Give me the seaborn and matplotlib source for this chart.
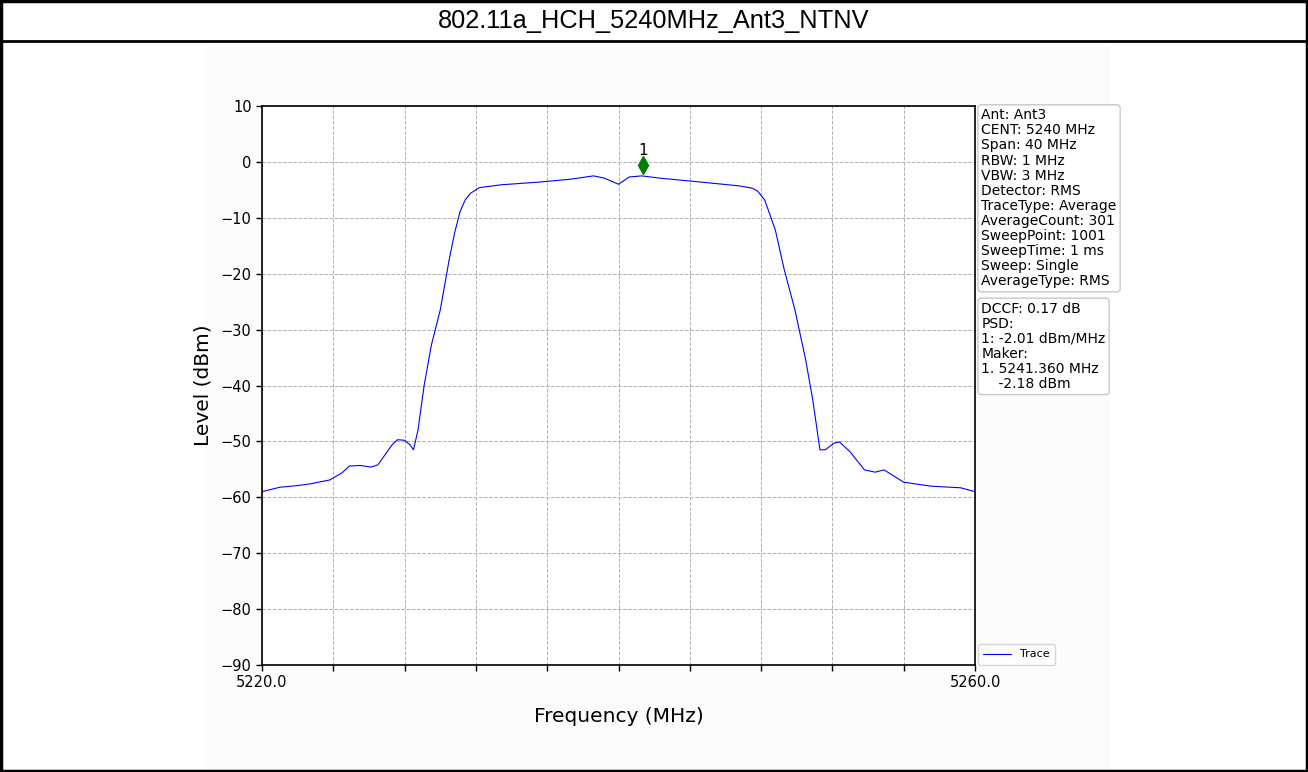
import numpy as np
import pandas as pd
import matplotlib
matplotlib.use("Agg")
import matplotlib.pyplot as plt
import seaborn as sns
from matplotlib.patches import Rectangle
from matplotlib.lines import Line2D

# trace
freq_mhz = [5220.0, 5221.0, 5222.0, 5222.7, 5223.8, 5224.5, 5224.9, 5225.5, 5226.1, 5226.5,
            5226.9, 5227.3, 5227.6, 5228.0, 5228.3, 5228.5, 5228.75, 5229.1, 5229.5, 5230.0,
            5230.5, 5230.8, 5231.1, 5231.4, 5231.7, 5232.2, 5233.4, 5235.6, 5237.3, 5238.6,
            5239.2, 5240.0, 5240.6, 5241.3, 5242.3, 5244.6, 5246.8, 5247.5, 5247.8, 5248.2,
            5248.8, 5249.3, 5249.9, 5250.5, 5250.9, 5251.3, 5251.6, 5252.1, 5252.4, 5253.0,
            5253.8, 5254.4, 5254.9, 5256.0, 5257.5, 5259.2, 5260.0]
level_dbm = [-59.0, -58.2, -57.9, -57.6, -56.9, -55.6, -54.4, -54.3, -54.6, -54.2,
             -52.4, -50.6, -49.7, -49.8, -50.6, -51.5, -48.0, -39.9, -32.8, -26.5,
             -17.5, -12.8, -9.0, -6.8, -5.6, -4.6, -4.1, -3.6, -3.1, -2.5,
             -2.9, -4.0, -2.7, -2.5, -2.9, -3.6, -4.3, -4.7, -5.2, -6.8,
             -12.2, -19.3, -26.5, -35.4, -42.6, -51.5, -51.5, -50.3, -50.1, -51.9,
             -55.1, -55.5, -55.1, -57.3, -58.0, -58.3, -59.0]

marker_freq = 5241.36
marker_level = -0.5

title = "802.11a_HCH_5240MHz_Ant3_NTNV"
info_lines = ["Ant: Ant3", "CENT: 5240 MHz", "Span: 40 MHz", "RBW: 1 MHz", "VBW: 3 MHz",
              "Detector: RMS", "TraceType: Average", "AverageCount: 301", "SweepPoint: 1001",
              "SweepTime: 1 ms", "Sweep: Single", "AverageType: RMS"]
result_lines = ["DCCF: 0.17 dB", "PSD:", "1: -2.01 dBm/MHz", "Maker:",
                "1. 5241.360 MHz", "    -2.18 dBm"]

df = pd.DataFrame({"Frequency (MHz)": freq_mhz, "Level (dBm)": level_dbm})

sns.set_style("white")
plt.rcParams.update({"text.color": "black", "axes.labelcolor": "black",
                     "xtick.color": "black", "ytick.color": "black"})
fig = plt.figure(figsize=(13.08, 7.72), dpi=100)
fig.patch.set_facecolor("white")

# light panel behind the embedded plot
fig.patches.append(Rectangle((205 / 1308, 0), 905 / 1308, 1 - 45 / 772, transform=fig.transFigure,
                             facecolor="#fcfcfc", edgecolor="none", zorder=-5))

ax = fig.add_axes([262 / 1308, 1 - 665 / 772, 713 / 1308, 559 / 772])
ax.set_facecolor("white")
sns.lineplot(data=df, x="Frequency (MHz)", y="Level (dBm)", ax=ax, color="blue",
             linewidth=0.8, label="Trace")
ax.plot([marker_freq], [marker_level], marker="d", color="green", markersize=9, linestyle="none")
ax.text(marker_freq, marker_level + 1.2, "1", ha="center", va="bottom", fontsize=11)

ax.set_xlim(5220, 5260)
ax.set_ylim(-90, 10)
xt = np.arange(5220, 5261, 4)
ax.set_xticks(xt)
ax.set_xticklabels(["5220.0"] + [""] * (len(xt) - 2) + ["5260.0"])
ax.set_yticks(np.arange(-90, 11, 10))
ax.tick_params(axis="both", direction="out", length=4, width=1, labelsize=10.5, bottom=True, left=True)
ax.grid(True, linestyle="--", color="#b0b0b0", linewidth=0.7)
ax.set_xlabel("Frequency (MHz)", fontsize=14.5, labelpad=12)
ax.set_ylabel("Level (dBm)", fontsize=14.5, labelpad=6)
for s in ax.spines.values():
    s.set_color("black")
    s.set_linewidth(1.2)

ax.legend(loc="lower left", bbox_to_anchor=(1.004, 0.0), borderaxespad=0, fontsize=8,
          frameon=True, handlelength=2.5, borderpad=0.5)

box = dict(boxstyle="round,pad=0.25", facecolor="white", edgecolor="#c8c8c8")
ax.text(1.009, 0.996, "\n".join(info_lines), transform=ax.transAxes, ha="left", va="top",
        fontsize=10, linespacing=1.1, bbox=box)
ax.text(1.009, 0.65, "\n".join(result_lines), transform=ax.transAxes, ha="left", va="top",
        fontsize=10, linespacing=1.1, bbox=box)

# title band and frame
fig.text(0.5, 1 - 21 / 772, title, ha="center", va="center", fontsize=18.3,
         family=["Liberation Sans", "DejaVu Sans"])
fig.add_artist(Line2D([0, 1], [1 - 41 / 772, 1 - 41 / 772], color="black", linewidth=2,
                      transform=fig.transFigure))
fig.add_artist(Rectangle((0.0008, 0.0013), 0.9984, 0.9974, transform=fig.transFigure,
                         fill=False, edgecolor="black", linewidth=2.5))

fig.savefig("out.png", dpi=100)
